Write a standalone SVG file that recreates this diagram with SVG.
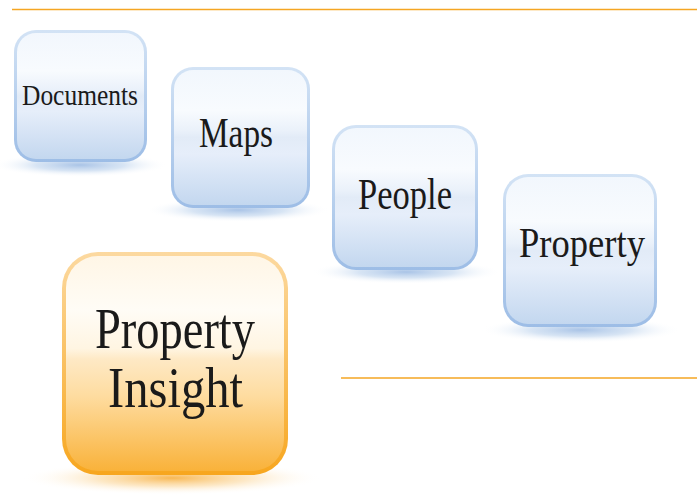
<svg xmlns="http://www.w3.org/2000/svg" width="697" height="495" viewBox="0 0 697 495">
<defs>
<linearGradient id="bRim" x1="0" y1="0" x2="0" y2="1">
<stop offset="0" stop-color="#d3e3f5"/><stop offset="1" stop-color="#9dbde6"/>
</linearGradient>
<linearGradient id="bFill" x1="0" y1="0" x2="0" y2="1">
<stop offset="0" stop-color="#f2f7fd"/><stop offset="0.3" stop-color="#f8fbfe"/><stop offset="0.45" stop-color="#eaf1fa"/><stop offset="0.5" stop-color="#e2ebf7"/><stop offset="0.62" stop-color="#e6eefa"/><stop offset="1" stop-color="#c3d7ef"/>
</linearGradient>
<linearGradient id="oRim" x1="0" y1="0" x2="0" y2="1">
<stop offset="0" stop-color="#fcd9a0"/><stop offset="1" stop-color="#f7a61e"/>
</linearGradient>
<linearGradient id="oFill" x1="0" y1="0" x2="0" y2="1">
<stop offset="0" stop-color="#fff6e6"/><stop offset="0.25" stop-color="#fffcf6"/><stop offset="0.43" stop-color="#fff5e2"/><stop offset="0.48" stop-color="#fee9c5"/><stop offset="0.65" stop-color="#fedca0"/><stop offset="1" stop-color="#f9b23a"/>
</linearGradient>
<radialGradient id="bShadow">
<stop offset="0" stop-color="#9ab9e2" stop-opacity="0.85"/><stop offset="0.5" stop-color="#b7cfeb" stop-opacity="0.55"/><stop offset="1" stop-color="#ffffff" stop-opacity="0"/>
</radialGradient>
<radialGradient id="oShadow">
<stop offset="0" stop-color="#f7ab35" stop-opacity="0.85"/><stop offset="0.5" stop-color="#fbd596" stop-opacity="0.55"/><stop offset="1" stop-color="#ffffff" stop-opacity="0"/>
</radialGradient>
</defs>
<style>
.rule{stroke:#f5a623;stroke-width:1.5;fill:none}
.lbl{font-family:"Liberation Serif","Times New Roman",serif;fill:#1a1a1a}
</style>
<g id="rules">
<line class="rule" x1="12" y1="9.5" x2="697" y2="9.5"/>
<line class="rule" x1="341" y1="378" x2="697" y2="378"/>
</g>
<g id="connectors"></g>
<g id="documents">
<ellipse cx="80" cy="165" rx="88" ry="12" fill="url(#bShadow)"/>
<rect x="14" y="30" width="133" height="132" rx="22" fill="url(#bRim)"/>
<rect x="17" y="33" width="127" height="126" rx="19" fill="url(#bFill)"/>
<text class="lbl" x="22" y="105" font-size="29" textLength="116" lengthAdjust="spacingAndGlyphs">Documents</text>
</g>
<g id="maps">
<ellipse cx="238" cy="210" rx="92" ry="12" fill="url(#bShadow)"/>
<rect x="171" y="67" width="139" height="141" rx="22" fill="url(#bRim)"/>
<rect x="174" y="70" width="133" height="135" rx="19" fill="url(#bFill)"/>
<text class="lbl" x="199" y="147" font-size="43" textLength="74" lengthAdjust="spacingAndGlyphs">Maps</text>
</g>
<g id="people">
<ellipse cx="406" cy="272" rx="95" ry="12" fill="url(#bShadow)"/>
<rect x="332" y="125" width="146" height="145" rx="24" fill="url(#bRim)"/>
<rect x="335" y="128" width="140" height="139" rx="21" fill="url(#bFill)"/>
<text class="lbl" x="358" y="209" font-size="44" textLength="94" lengthAdjust="spacingAndGlyphs">People</text>
</g>
<g id="property">
<ellipse cx="581" cy="330" rx="100" ry="13" fill="url(#bShadow)"/>
<rect x="503" y="174" width="154" height="153" rx="25" fill="url(#bRim)"/>
<rect x="506" y="177" width="148" height="147" rx="22" fill="url(#bFill)"/>
<text class="lbl" x="519" y="257" font-size="43" textLength="126" lengthAdjust="spacingAndGlyphs">Property</text>
</g>
<g id="property-insight">
<ellipse cx="172" cy="478" rx="150" ry="17" fill="url(#oShadow)"/>
<rect x="62" y="252" width="226" height="223" rx="36" fill="url(#oRim)"/>
<rect x="66" y="256" width="218" height="215" rx="32" fill="url(#oFill)"/>
<text class="lbl" x="95" y="348" font-size="57" textLength="160" lengthAdjust="spacingAndGlyphs">Property</text>
<text class="lbl" x="108" y="407" font-size="57" textLength="135" lengthAdjust="spacingAndGlyphs">Insight</text>
</g>
</svg>
